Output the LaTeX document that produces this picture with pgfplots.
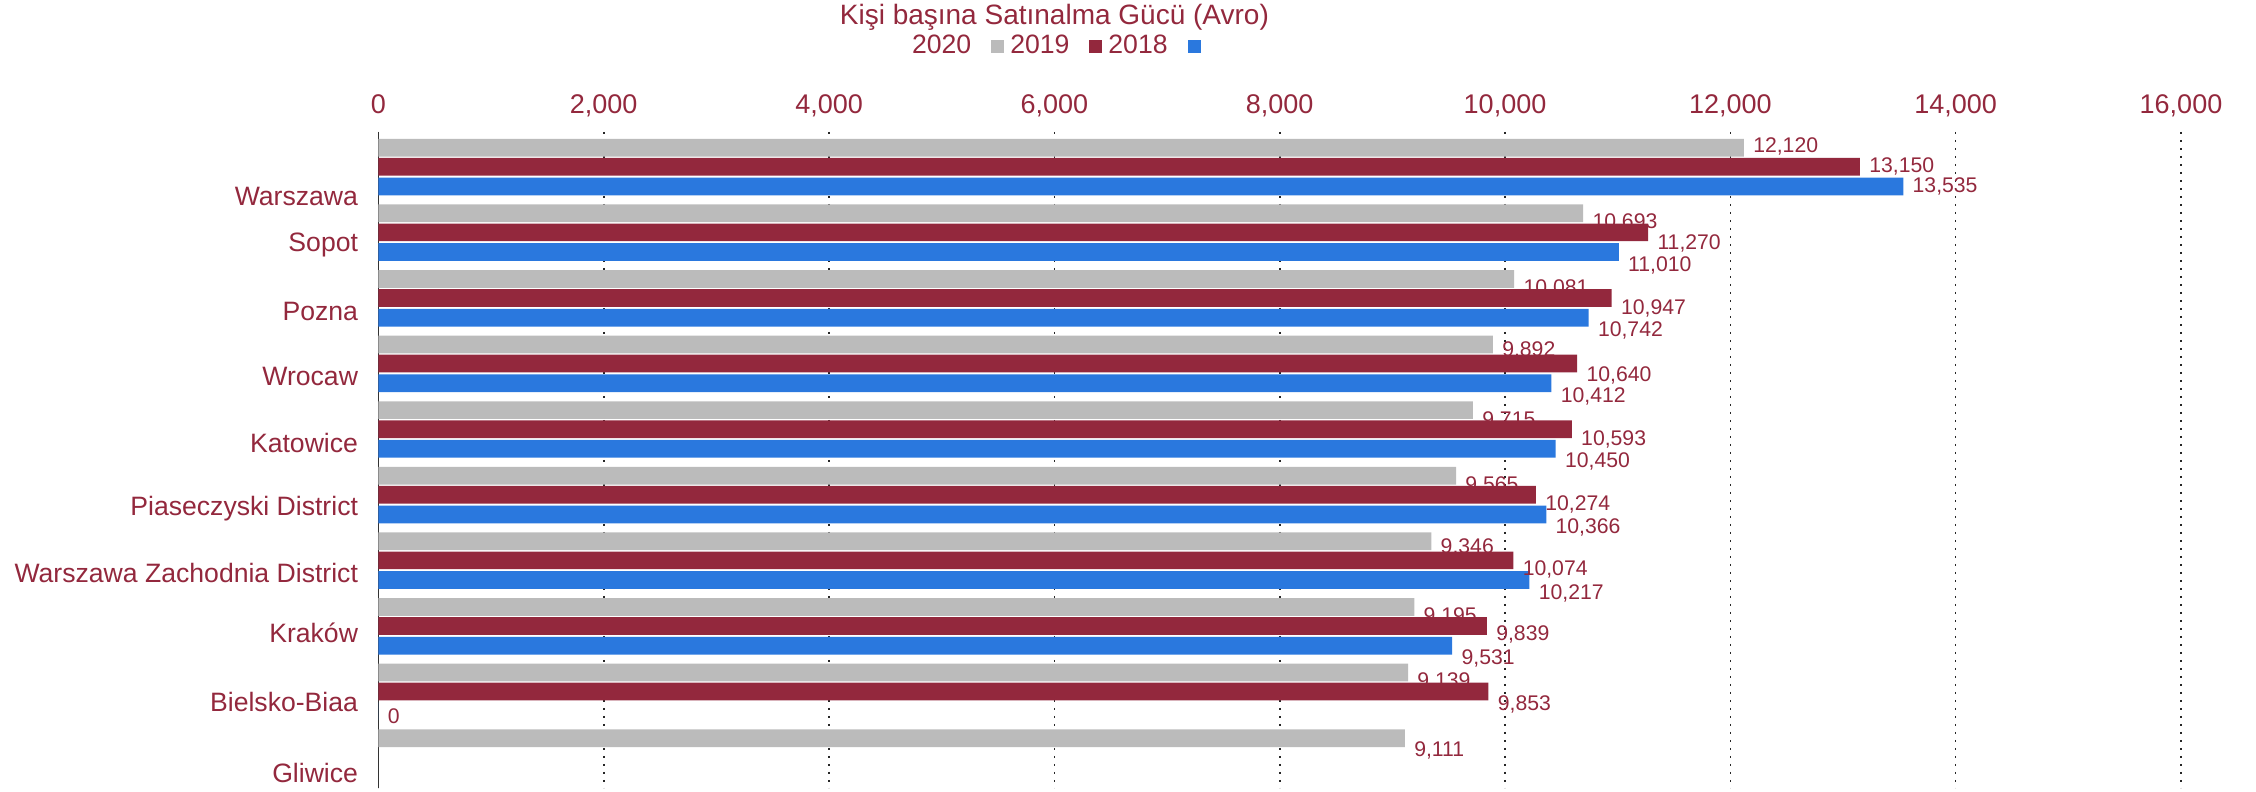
\documentclass[border=0pt]{standalone}
\usepackage{fontspec}
\setmainfont{Liberation Sans}
\usepackage{pgfplots}
\pgfplotsset{compat=1.18}
\usepackage{pgfplotstable}

\definecolor{cgray}{HTML}{BBBBBB}
\definecolor{cred}{HTML}{93283D}
\definecolor{cblue}{HTML}{2A78DE}
\definecolor{ctext}{HTML}{93283D}

% y = category index (0 = Warszawa), x = value, ys = label shift in pt
\pgfplotstableread{
y x ys
0 12120 0.5
1 10693 -4.5
2 10081 -5
3 9892 -3
4 9715 -5
5 9565 -4.75
6 9346 -3
7 9195 -5
8 9139 -4.5
9 9111 -6.3
}\serA
\pgfplotstableread{
y x ys
0 13150 0
1 11270 -5.75
2 10947 -5.25
3 10640 -5.75
4 10593 -5.25
5 10274 -5
6 10074 -4.5
7 9839 -4
8 9853 -6.5
}\serB
\pgfplotstableread{
y x ys
0 13535 0
1 11010 -6.5
2 10742 -6.5
3 10412 -6.7
4 10450 -6.25
5 10366 -6.5
6 10217 -6.5
7 9531 -6.3
8 0 -2.5
}\serC

\begin{document}
\begin{tikzpicture}
\useasboundingbox (-189.2pt,-2pt) rectangle (938.8pt,394pt);
\begin{axis}[
  scale only axis,
  width=901.3pt, height=328pt,
  xbar, bar width=0.27,
  xmin=0, xmax=16000, ymin=-0.5, ymax=9.5,
  y dir=reverse,
  axis x line*=top, axis y line*=left,
  x axis line style={draw=none},
  y axis line style={draw=black!80, line width=0.8pt},
  xtick={0,2000,...,16000},
  scaled x ticks=false,
  xmajorgrids,
  grid style={draw=black!85, line width=0.8pt, dash pattern=on 0.8pt off 3.2pt},
  major tick length=0,
  ytick={0.49,1.22,2.24,3.23,4.24,5.24,6.23,7.14,8.19,9.27},
  yticklabels={Warszawa, Sopot, Pozna, Wrocaw, Katowice, Piaseczyski District,
    Warszawa Zachodnia District, Kraków, Bielsko-Biaa, Gliwice},
  /pgf/number format/1000 sep={,},
  /pgf/number format/assume math mode=true,
  xticklabel style={font=\fontsize{13.5}{16}\selectfont, text=ctext, anchor=base, inner sep=0pt, yshift=9pt},
  yticklabel style={font=\fontsize{13.3}{16}\selectfont, text=ctext, inner sep=0pt, xshift=-10pt},
  point meta=x,
  nodes near coords,
  nodes near coords style={font=\fontsize{10.6}{12}\selectfont, text=ctext, anchor=west, inner sep=0pt, xshift=4.5pt, yshift=\ys pt},
  legend plot pos=right,
  legend columns=3,
  legend image code/.code={\fill[#1] (0pt,-3.25pt) rectangle (6.5pt,3.25pt);},
  legend style={at={(axis description cs:0.375,1.131)}, anchor=center, draw=none, fill=none,
    font=\fontsize{13.3}{16}\selectfont, text=ctext, inner sep=0pt,
    /tikz/every even column/.append style={column sep=1pt},
    /tikz/every odd column/.append style={column sep=8pt}},
]
\addplot[fill=cgray, draw=none, bar shift=-0.26, visualization depends on={\thisrow{ys}\as\ys}]
  table[x=x, y=y] {\serA};
\addplot[fill=cred, draw=none, bar shift=0.03, visualization depends on={\thisrow{ys}\as\ys}]
  table[x=x, y=y] {\serB};
\addplot[fill=cblue, draw=none, bar shift=0.33, visualization depends on={\thisrow{ys}\as\ys}]
  table[x=x, y=y] {\serC};
\legend{2020, 2019, 2018}
\end{axis}
% chart title, centred above the legend
\node[font=\fontsize{14}{16}\selectfont, text=ctext, inner sep=0pt] at (338pt,385.4pt) {Kişi başına Satınalma Gücü (Avro)};
\end{tikzpicture}
\end{document}
